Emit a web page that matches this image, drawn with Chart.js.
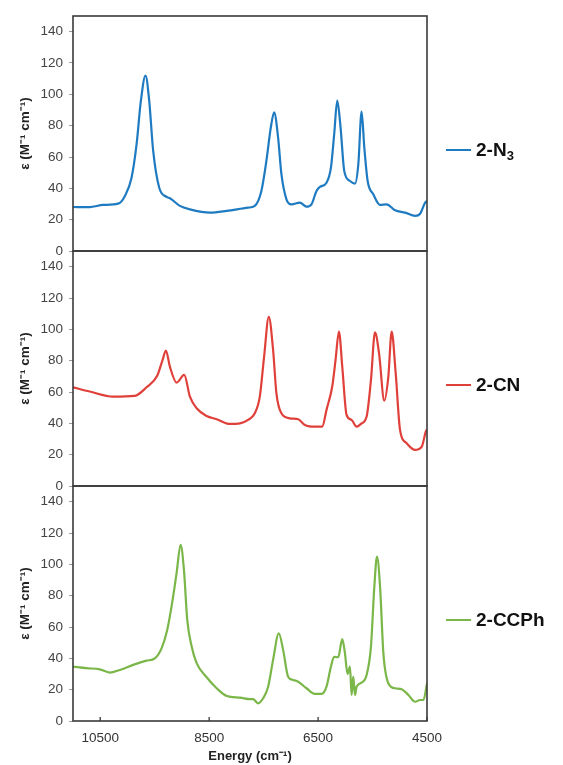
<!DOCTYPE html>
<html>
<head>
<meta charset="utf-8">
<script src="https://cdn.jsdelivr.net/npm/chart.js@4.4.1/dist/chart.umd.min.js"></script>
<style>
  html, body { margin: 0; padding: 0; background: #fff; }
  #wrap { position: relative; width: 563px; height: 765px; }
  canvas { position: absolute; left: 0; top: 0; }
  .leg { position: absolute; left: 446px; height: 24px; display: flex; align-items: center;
         font-family: Arial, "Liberation Sans", sans-serif; font-weight: bold; font-size: 19px; color: #111; }
  .leg .ln { width: 25px; height: 2.5px; margin-right: 5px; }
  .leg sub { font-size: 13px; vertical-align: -4px; line-height: 0; }
</style>
</head>
<body>
<div id="wrap">
  <canvas id="c" width="563" height="765"></canvas>
  <div class="leg" id="legN3" style="top:138px"><span class="ln" style="background:#1f7bc1"></span><span>2-N<sub>3</sub></span></div>
  <div class="leg" id="legCN" style="top:373px"><span class="ln" style="background:#e0403a"></span><span>2-CN</span></div>
  <div class="leg" id="legCCPh" style="top:608px"><span class="ln" style="background:#7ab648"></span><span>2-CCPh</span></div>
</div>
<script>
// ---------- data ----------
const seriesNames = ['2-N₃', '2-CN', '2-CCPh'];
const xTickValues = [10500, 8500, 6500, 4500];
const yTickValues = [0, 20, 40, 60, 80, 100, 120, 140];

const energyN3 = [11000,10693,10448,10172,10049,9925,9833,9754,9668,9601,9528,9418,9281,9221,9037,8853,8485,8177,7786,7662,7541,7449,7368,7307,7234,7173,7081,6989,6834,6713,6621,6529,6467,6345,6264,6204,6148,6087,6019,5914,5822,5761,5701,5651,5590,5486,5362,5241,5086,4902,4718,4626,4534,4500];
const epsN3    = [28.1,28,29.4,30.2,35,46.8,68,95.8,112,96,64,40.5,34.5,33.7,28.8,26.6,24.5,25.6,27.7,28.8,38.3,57.5,78.8,88.5,72.4,49,33,29.8,30.9,28.3,29.8,38.3,40.9,43.6,53.2,74.6,96,78.8,51,44.7,43,55.4,89,66,44.7,36.2,29.4,29.8,26,24.5,22.4,23.8,30.9,32];

const energyCN = [11000,10693,10264,9865,9650,9454,9355,9294,9221,9098,8958,8853,8730,8546,8362,8117,7933,7786,7662,7570,7491,7405,7326,7265,7173,7018,6865,6742,6558,6424,6345,6240,6179,6117,6056,5977,5885,5793,5701,5609,5529,5455,5381,5284,5210,5149,5075,4995,4873,4718,4596,4522,4500];
const epsCN    = [63,60.3,57,57.5,63,70.3,80.5,86.5,76.2,66,70.9,57,49.6,44.7,42.6,39.6,40,42.2,46.4,57,82.6,108,86.9,59.2,46.4,43.2,42.6,39,37.9,37.9,48.6,63.5,80.5,98.6,76.2,45.4,42.2,37.9,40,44.3,67.7,98,84.8,54.5,69.8,98.6,72,35.8,27.3,23,25.1,34.7,36];

const energyCCPh = [11000,10754,10509,10325,10141,9896,9650,9497,9374,9270,9171,9098,9024,8963,8902,8821,8730,8546,8362,8177,7933,7749,7693,7601,7509,7417,7326,7221,7142,7050,6958,6866,6713,6558,6437,6345,6264,6204,6130,6056,6007,5959,5914,5885,5854,5822,5793,5701,5609,5529,5467,5418,5362,5301,5210,5086,4964,4841,4718,4626,4565,4500];
const epsCCPh    = [34.7,33.7,33,30.9,32.6,35.8,38.5,40,46.4,58.1,77.3,94.4,112.5,96.5,64.5,47.5,36.9,27.9,20.9,16,14.9,13.9,13.9,11.3,14.5,21.9,39,56,45.4,28.3,26.2,25.1,20.9,17.3,17.3,21.9,34.7,41,40.7,52.2,43.3,30,34.7,16.6,28.3,16.6,21.9,24.5,29.4,47.5,85.8,105,85.8,43.3,24.1,20.9,20.3,16.6,12.3,13.4,13.4,24];

const colors = ['#1f7bc1', '#e0403a', '#7ab648'];
// ----------------------------------------------------

const pts = (xs, ys) => xs.map((x, i) => ({x, y: ys[i]}));
const FONT = 'Arial, "Liberation Sans", sans-serif';

function yScale(weight) {
  return {
    type: 'linear', position: 'left', stack: 'panels', stackWeight: 1, weight: weight,
    min: 0, max: 150,
    afterBuildTicks: s => { s.ticks = yTickValues.map(v => ({value: v})); },
    afterFit: s => { s.width = 73; },
    grid: { display: true, drawOnChartArea: false, drawTicks: true, tickLength: 4, color: '#9a9a9a', lineWidth: 1 },
    border: { display: false },
    ticks: { autoSkip: false, font: { family: FONT, size: 13.5 }, color: '#444', padding: 6,
             callback: v => String(v) },
    title: { display: true, text: 'ε (M⁻¹ cm⁻¹)', font: { family: FONT, size: 13.5, weight: 'bold' }, color: '#222', padding: { top: 17, bottom: 0 } }
  };
}

const framePlugin = {
  id: 'frame',
  afterDatasetsDraw(chart) {
    const ctx = chart.ctx, a = chart.chartArea;
    ctx.save();
    ctx.strokeStyle = '#3a3a3a';
    ctx.lineWidth = 1.6;
    ['yN3', 'yCN', 'yCCPh'].forEach(id => {
      const s = chart.scales[id];
      ctx.strokeRect(a.left, s.top, a.right - a.left, s.bottom - s.top);
    });
    // inward x tick marks on bottom axis
    const xs = chart.scales.x;
    ctx.lineWidth = 1.3;
    xs.ticks.forEach(t => {
      const px = xs.getPixelForValue(t.value);
      ctx.beginPath();
      ctx.moveTo(px, a.bottom);
      ctx.lineTo(px, a.bottom - 4);
      ctx.stroke();
    });
    ctx.restore();
  }
};

new Chart(document.getElementById('c'), {
  type: 'line',
  data: {
    datasets: [
      { label: seriesNames[0], data: pts(energyN3, epsN3), yAxisID: 'yN3', borderColor: colors[0] },
      { label: seriesNames[1], data: pts(energyCN, epsCN), yAxisID: 'yCN', borderColor: colors[1] },
      { label: seriesNames[2], data: pts(energyCCPh, epsCCPh), yAxisID: 'yCCPh', borderColor: colors[2] }
    ]
  },
  options: {
    responsive: false,
    animation: false,
    devicePixelRatio: 1,
    layout: { padding: { top: 16, right: 136, left: 0, bottom: 0 } },
    elements: {
      line: { borderWidth: 2.2, cubicInterpolationMode: 'monotone', fill: false },
      point: { radius: 0 }
    },
    plugins: { legend: { display: false }, tooltip: { enabled: false } },
    scales: {
      x: {
        type: 'linear', min: 4500, max: 11000, reverse: true,
        afterBuildTicks: s => { s.ticks = xTickValues.map(v => ({value: v})); },
        afterFit: s => { s.height = 44; },
        grid: { display: false, drawTicks: false, tickLength: 0 },
        border: { display: false },
        ticks: { autoSkip: false, font: { family: FONT, size: 13.5 }, color: '#333', padding: 9, maxRotation: 0,
                 callback: v => String(v) },
        title: { display: true, text: 'Energy (cm⁻¹)', font: { family: FONT, size: 13, weight: 'bold' }, color: '#222', padding: { top: 0, bottom: 1 } }
      },
      yN3: yScale(3),
      yCN: yScale(2),
      yCCPh: yScale(1)
    }
  },
  plugins: [framePlugin]
});
</script>
</body>
</html>
